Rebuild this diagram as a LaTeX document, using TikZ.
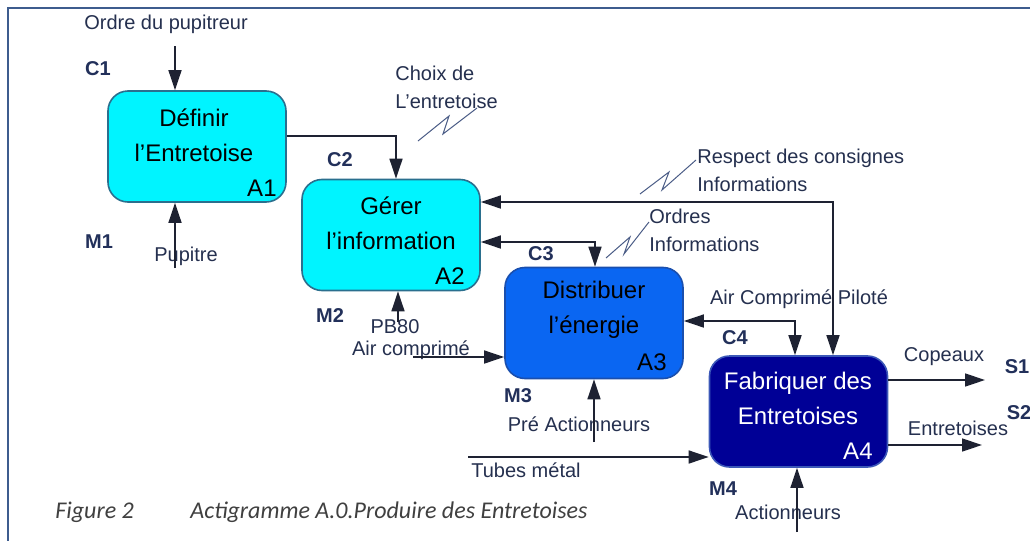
\documentclass[tikz,border=0pt]{standalone}
\usepackage{fontspec}
\setmainfont{Liberation Sans}
\newfontfamily\capfont{Carlito}
\usetikzlibrary{arrows.meta}
\definecolor{lbl}{HTML}{25304F}
\definecolor{bld}{HTML}{22305A}
\definecolor{lin}{HTML}{1E2232}
\definecolor{cyanf}{HTML}{00F4FF}
\definecolor{cyanb}{HTML}{2A6F8E}
\definecolor{bluef}{HTML}{0A66F2}
\definecolor{blueb}{HTML}{1A4FAE}
\definecolor{navyf}{HTML}{000096}
\definecolor{navyb}{HTML}{3C58B8}
\definecolor{frm}{HTML}{3E5C8E}
\definecolor{sq}{HTML}{4A5C86}
\tikzset{
  boxA/.style={draw=cyanb, line width=0.8pt, fill=cyanf, rounded corners=10pt, minimum width=89pt, minimum height=55.5pt, inner sep=0pt},
  boxB/.style={boxA, draw=blueb, fill=bluef},
  boxC/.style={boxA, draw=navyb, fill=navyf},
  ttl/.style={align=center, font=\fontsize{12}{17.5}\selectfont, inner sep=0pt},
  num/.style={font=\fontsize{12}{14}\selectfont, inner sep=0pt},
  lab/.style={text=lbl, font=\fontsize{10}{14}\selectfont, inner sep=0pt},
  code/.style={text=bld, font=\bfseries\fontsize{10}{12}\selectfont, inner sep=0pt},
  arr/.style={draw=lin, line width=0.7pt, -{Triangle[length=10pt,width=6.5pt]}},
  darr/.style={draw=lin, line width=0.7pt, {Triangle[length=10pt,width=6.5pt]}-{Triangle[length=10pt,width=6.5pt]}},
  squig/.style={draw=sq, line width=0.5pt},
  frame/.style={draw=frm, line width=1pt}
}
\begin{document}
\begin{tikzpicture}[x=0.5pt,y=-0.5pt]
\useasboundingbox (0,0) rectangle (1030,541);
\fill[white] (0,0) rectangle (1030,541);
% frame
\coordinate (ftl) at (8,8);
\coordinate (ftr) at (1030,8);
\coordinate (fbl) at (8,541);
\draw[frame] (fbl) -- (ftl) -- (ftr);

% boxes
\node[boxA] (a1) at (197,146.5) {};
\node[boxA] (a2) at (391,235) {};
\node[boxB] (a3) at (594,323) {};
\node[boxC] (a4) at (798.5,411.5) {};

\node[ttl] (a1t) at (194,135) {Définir\\l’Entretoise};
\node[num, anchor=south east] (a1n) at (277,197) {A1};
\node[ttl] (a2t) at (391,223) {Gérer\\l’information};
\node[num, anchor=south east] (a2n) at (465,285) {A2};
\node[ttl] (a3t) at (594,310) {Distribuer\\l’énergie};
\node[num, anchor=south east] (a3n) at (667,371) {A3};
\node[ttl, text=white] (a4t) at (798,398) {Fabriquer des\\Entretoises};
\node[num, text=white, anchor=south east] (a4n) at (873,460) {A4};

% labels
\node[lab] (l1) at (166,24) {Ordre du pupitreur};
\node[code] (c1) at (98,69) {C1};
\node[code] (m1) at (99,242) {M1};
\node[lab] (l2) at (186,256) {Pupitre};
\node[code] (c2) at (340,160) {C2};
\node[lab, align=left, anchor=north west] (l3) at (395,66) {Choix de\\L’entretoise};
\node[lab, align=left, anchor=north west] (l4) at (697,149) {Respect des consignes\\Informations};
\node[lab, align=left, anchor=north west] (l5) at (649,209) {Ordres\\Informations};
\node[code] (c3) at (541,254) {C3};
\node[lab] (l6) at (799,299) {Air Comprimé Piloté};
\node[code] (c4) at (735,338) {C4};
\node[code] (m2) at (330,316) {M2};
\node[lab] (l7) at (395,327) {PB80};
\node[lab] (l8) at (411,350) {Air comprimé};
\node[code] (m3) at (518,396) {M3};
\node[lab] (l9) at (579,424) {Pré Actionneurs};
\node[lab] (l10) at (526,470) {Tubes métal};
\node[code] (m4) at (723,489) {M4};
\node[lab] (l11) at (788,512) {Actionneurs};
\node[lab] (l12) at (944,357) {Copeaux};
\node[code] (s1) at (1017,367) {S1};
\node[lab] (l13) at (958,428) {Entretoises};
\node[code] (s2) at (1019,413) {S2};
\node[anchor=west, inner sep=0pt, text=black!75, font=\capfont\itshape\fontsize{12}{14}\selectfont] (cap1) at (55,512) {Figure 2};
\node[anchor=west, inner sep=0pt, text=black!75, font=\capfont\itshape\fontsize{12}{14}\selectfont] (cap2) at (190,512) {Actigramme A.0.Produire des Entretoises};

% free ends
\coordinate (c1s) at (175,46);
\coordinate (m1s) at (175,268);
\coordinate (m2s) at (398,322);
\coordinate (m3s) at (594,442);
\coordinate (m4s) at (797,532);
\coordinate (i1s) at (413,357);
\coordinate (i2s) at (468,457);
\coordinate (s1e) at (985,380);
\coordinate (s2e) at (982,445);

% connectors
\draw[arr] (c1s) -- (c1s |- a1.north);
\draw[arr] (m1s) -- (m1s |- a1.south);
\draw[arr] (a1.east |- 0,136) -| (396,0 |- a2.north);
\draw[darr] (a2.east |- 0,202) -| (833,0 |- a4.north);
\draw[darr] (a2.east |- 0,242) -| (595,0 |- a3.north);
\draw[darr] (a3.east |- 0,321) -| (795,0 |- a4.north);
\draw[arr] (m2s) -- (m2s |- a2.south);
\draw[arr] (i1s) -- (i1s -| a3.west);
\draw[arr] (m3s) -- (m3s |- a3.south);
\draw[arr] (i2s) -- (i2s -| a4.west);
\draw[arr] (m4s) -- (m4s |- a4.south);
\draw[arr] (a4.east |- s1e) -- (s1e);
\draw[arr] (a4.east |- s2e) -- (s2e);

% squiggles
\draw[squig] (418,141) -- (449,116) -- (443,134) -- (477,108);
\draw[squig] (640,194) -- (669,172) -- (662,190) -- (696,160);
\draw[squig] (606,258) -- (630,237) -- (624,254) -- (649,222);
\end{tikzpicture}
\end{document}
